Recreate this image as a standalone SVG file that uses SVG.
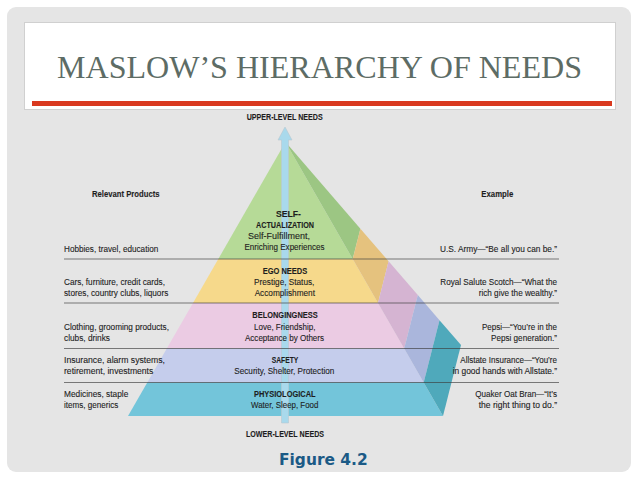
<svg xmlns="http://www.w3.org/2000/svg" width="638" height="479" viewBox="0 0 638 479">
<style>
.t{font-family:"Liberation Sans",Arial,sans-serif;font-size:9.6px;fill:#1e1e1e;stroke:#1e1e1e;stroke-width:0.12}
.b{font-weight:bold}
.m{text-anchor:middle}
.e{text-anchor:end}
.sep{stroke:#3c3c3c;stroke-opacity:0.65;stroke-width:1}
</style>
<rect x="0" y="0" width="638" height="479" fill="#ffffff"/>
<rect x="7" y="7" width="624" height="465" rx="9" fill="#e5e5e5"/>
<g id="title">
<rect x="24.5" y="22.5" width="591" height="87" fill="#ffffff" stroke="#d0d0d0" stroke-width="1"/>
<text x="57" y="78" textLength="525" lengthAdjust="spacingAndGlyphs" style="font-family:'Liberation Serif','Times New Roman',serif;font-size:32px;fill:#5d6c65">MASLOW’S HIERARCHY OF NEEDS</text>
<rect x="32" y="101" width="580" height="5" fill="#d9391f"/>
</g>
<g id="nodes">
<g id="self-actualization">
<polygon points="285.5,142 352.7,259 218.3,259" fill="#b6da97"/>
<polygon points="285.5,142 352.7,259 360.4,228.7" fill="#9cc683"/>
</g>
<g id="ego-needs">
<polygon points="218.3,259 352.7,259 378,303 193,303" fill="#f6d98b"/>
<polygon points="352.7,259 378,303 388.6,261.3 360.4,228.7" fill="#e5c27e"/>
</g>
<g id="belongingness">
<polygon points="193,303 378,303 404.2,348.5 166.8,348.5" fill="#ebcbe3"/>
<polygon points="378,303 404.2,348.5 417.8,295 388.6,261.3" fill="#d5b4d2"/>
</g>
<g id="safety">
<polygon points="166.8,348.5 404.2,348.5 423.7,382.5 147.3,382.5" fill="#c5cdec"/>
<polygon points="404.2,348.5 423.7,382.5 439.5,320.2 417.8,295" fill="#aab6dc"/>
</g>
<g id="physiological">
<polygon points="147.3,382.5 423.7,382.5 443,416 128,416" fill="#73c5da"/>
<polygon points="423.7,382.5 443,416 461,345 439.5,320.2" fill="#4fa9bb"/>
</g>
</g>
<g id="connectors">
<polygon points="285,127 292,140 288.5,140 288.5,423 281.5,423 281.5,140 278,140" fill="#a9d9ec" stroke="#b9c8d0" stroke-width="0.6"/>
<line class="sep" x1="64" y1="259" x2="559" y2="259"/>
<line class="sep" x1="64" y1="303" x2="559" y2="303"/>
<line class="sep" x1="64" y1="348.5" x2="559" y2="348.5"/>
<line class="sep" x1="64" y1="382.5" x2="559" y2="382.5"/>
</g>
<g id="labels">
<text class="t b m" x="284.7" y="119.7" textLength="76" lengthAdjust="spacingAndGlyphs">UPPER-LEVEL NEEDS</text>
<text class="t b m" x="285" y="436.7" textLength="78" lengthAdjust="spacingAndGlyphs">LOWER-LEVEL NEEDS</text>
<text class="t b" x="92" y="197.3" textLength="67.5" lengthAdjust="spacingAndGlyphs">Relevant Products</text>
<text class="t b" x="481.3" y="197.3" textLength="32" lengthAdjust="spacingAndGlyphs">Example</text>
<g id="self-actualization-label">
<text class="t b m" x="288.5" y="216.7" textLength="25" lengthAdjust="spacingAndGlyphs">SELF-</text>
<text class="t b m" x="285" y="228.3" textLength="58" lengthAdjust="spacingAndGlyphs">ACTUALIZATION</text>
<text class="t" x="248" y="239" textLength="62" lengthAdjust="spacingAndGlyphs">Self-Fulfillment,</text>
<text class="t m" x="284.5" y="250" textLength="80" lengthAdjust="spacingAndGlyphs">Enriching Experiences</text>
<text class="t" x="64" y="251.7" textLength="94.3" lengthAdjust="spacingAndGlyphs">Hobbies, travel, education</text>
<text class="t e" x="557" y="252" textLength="117" lengthAdjust="spacingAndGlyphs">U.S. Army—“Be all you can be.”</text>
</g>
<g id="ego-needs-label">
<text class="t b m" x="285" y="274" textLength="44.6" lengthAdjust="spacingAndGlyphs">EGO NEEDS</text>
<text class="t m" x="284.2" y="285.3" textLength="60.3" lengthAdjust="spacingAndGlyphs">Prestige, Status,</text>
<text class="t m" x="284.8" y="295.7" textLength="60.3" lengthAdjust="spacingAndGlyphs">Accomplishment</text>
<text class="t" x="64" y="285.3" textLength="101" lengthAdjust="spacingAndGlyphs">Cars, furniture, credit cards,</text>
<text class="t" x="64" y="295.7" textLength="104.3" lengthAdjust="spacingAndGlyphs">stores, country clubs, liquors</text>
<text class="t e" x="557" y="285.3" textLength="116.7" lengthAdjust="spacingAndGlyphs">Royal Salute Scotch—“What the</text>
<text class="t e" x="557" y="295.7" textLength="78.3" lengthAdjust="spacingAndGlyphs">rich give the wealthy.”</text>
</g>
<g id="belongingness-label">
<text class="t b m" x="285" y="318.3" textLength="65.4" lengthAdjust="spacingAndGlyphs">BELONGINGNESS</text>
<text class="t m" x="284.7" y="330" textLength="61.3" lengthAdjust="spacingAndGlyphs">Love, Friendship,</text>
<text class="t m" x="284.5" y="340.7" textLength="79" lengthAdjust="spacingAndGlyphs">Acceptance by Others</text>
<text class="t" x="64" y="330" textLength="105" lengthAdjust="spacingAndGlyphs">Clothing, grooming products,</text>
<text class="t" x="64" y="340.7" textLength="46" lengthAdjust="spacingAndGlyphs">clubs, drinks</text>
<text class="t e" x="557" y="330" textLength="75" lengthAdjust="spacingAndGlyphs">Pepsi—“You’re in the</text>
<text class="t e" x="557" y="340.7" textLength="66" lengthAdjust="spacingAndGlyphs">Pepsi generation.”</text>
</g>
<g id="safety-label">
<text class="t b m" x="285" y="363.3" textLength="26.6" lengthAdjust="spacingAndGlyphs">SAFETY</text>
<text class="t m" x="284.3" y="374.3" textLength="100" lengthAdjust="spacingAndGlyphs">Security, Shelter, Protection</text>
<text class="t" x="64" y="363.3" textLength="101" lengthAdjust="spacingAndGlyphs">Insurance, alarm systems,</text>
<text class="t" x="64" y="374.3" textLength="89.3" lengthAdjust="spacingAndGlyphs">retirement, investments</text>
<text class="t e" x="557" y="363.3" textLength="96.7" lengthAdjust="spacingAndGlyphs">Allstate Insurance—“You’re</text>
<text class="t e" x="557" y="374.3" textLength="104.3" lengthAdjust="spacingAndGlyphs">in good hands with Allstate.”</text>
</g>
<g id="physiological-label">
<text class="t b m" x="284.8" y="396.7" textLength="61.7" lengthAdjust="spacingAndGlyphs">PHYSIOLOGICAL</text>
<text class="t m" x="284.7" y="407.7" textLength="67.3" lengthAdjust="spacingAndGlyphs">Water, Sleep, Food</text>
<text class="t" x="64" y="396.7" textLength="64.3" lengthAdjust="spacingAndGlyphs">Medicines, staple</text>
<text class="t" x="64" y="407.7" textLength="54.3" lengthAdjust="spacingAndGlyphs">items, generics</text>
<text class="t e" x="557" y="396.7" textLength="81.7" lengthAdjust="spacingAndGlyphs">Quaker Oat Bran—“It’s</text>
<text class="t e" x="557" y="407.7" textLength="78.3" lengthAdjust="spacingAndGlyphs">the right thing to do.”</text>
</g>
<text x="279" y="465" textLength="88.7" lengthAdjust="spacingAndGlyphs" style="font-family:'DejaVu Sans',Verdana,sans-serif;font-weight:bold;font-size:16px;fill:#1b5a86">Figure 4.2</text>
</g>
</svg>
